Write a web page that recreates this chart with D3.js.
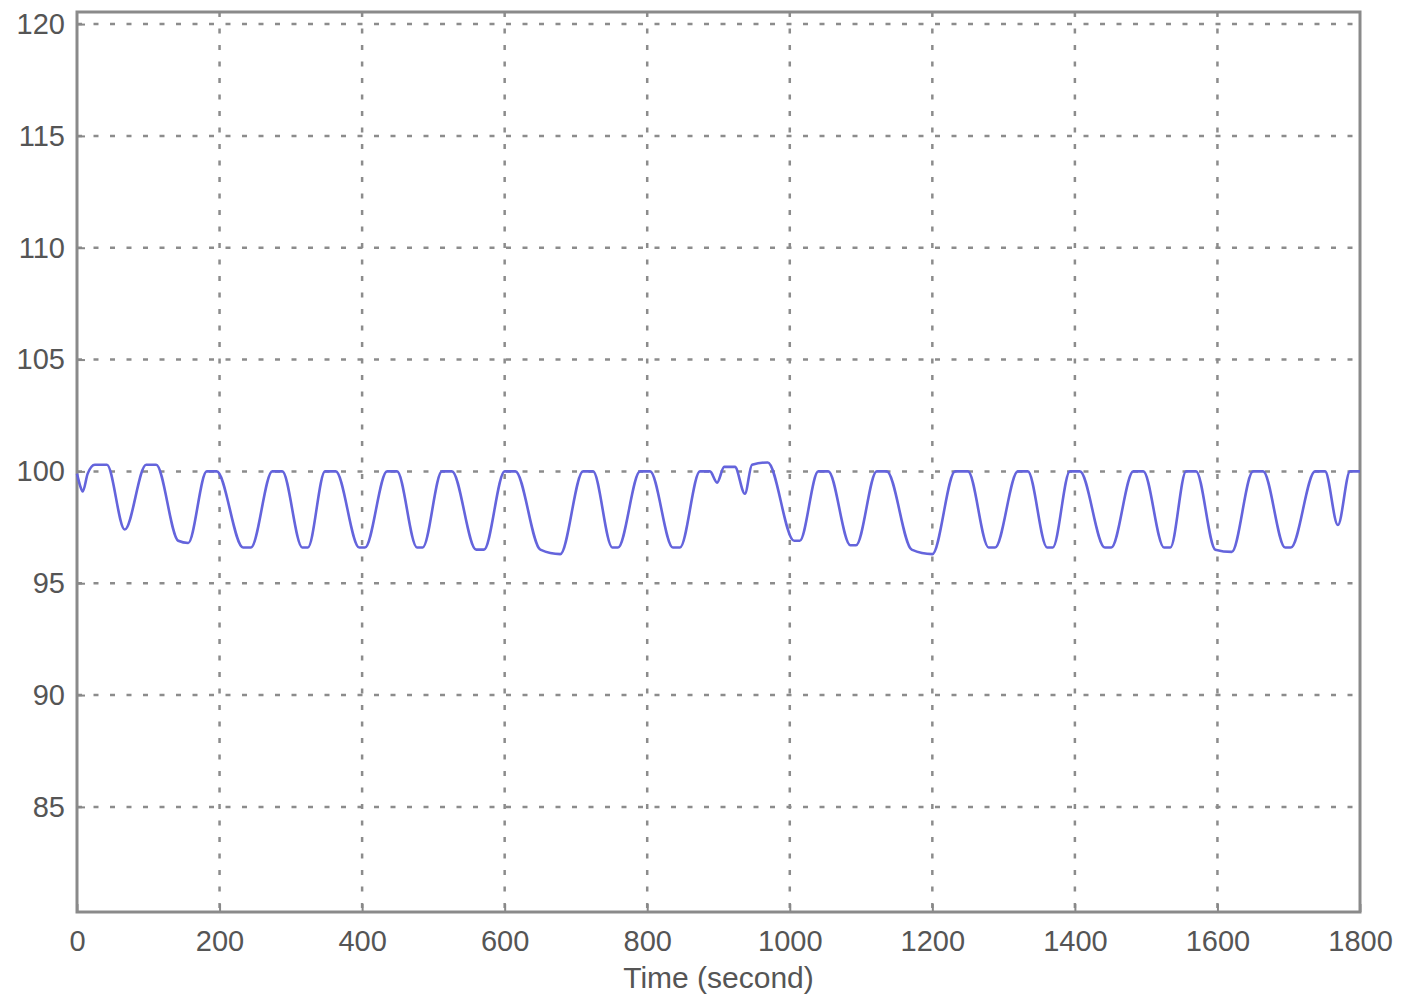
<!DOCTYPE html>
<html>
<head>
<meta charset="utf-8">
<script src="https://cdn.jsdelivr.net/npm/d3@7/dist/d3.min.js"></script>
<style>
  html, body { margin: 0; padding: 0; background: #ffffff; }
  svg { display: block; }
  text { font-family: Arial, "Liberation Sans", sans-serif; }
</style>
</head>
<body>
<svg id="chart" width="1404" height="997"></svg>
<script>
// Time samples (seconds) and measured level
const times = [
  0, 4, 8, 15, 25, 42, 67, 97, 111, 142, 156, 182, 196, 233, 244, 274, 288,
  316, 324, 348, 363, 396, 404, 435, 449, 477, 485, 512, 526, 560, 571,
  600, 615, 650, 678, 710, 724, 751, 759, 790, 804, 836, 846, 874, 888,
  898, 908, 923, 937, 947, 969, 1006, 1014, 1040, 1054, 1085, 1093, 1122, 1136,
  1171, 1200, 1232, 1250, 1279, 1288, 1320, 1334, 1361, 1369, 1393, 1407,
  1442, 1451, 1482, 1496, 1525, 1534, 1556, 1570, 1597, 1620, 1650, 1664,
  1695, 1703, 1737, 1751, 1769, 1786, 1800
];
const values = [
  99.9, 99.4, 99.1, 99.9, 100.3, 100.3, 97.4, 100.3, 100.3, 96.9, 96.8, 100.0, 100.0, 96.6, 96.6, 100.0, 100.0,
  96.6, 96.6, 100.0, 100.0, 96.6, 96.6, 100.0, 100.0, 96.6, 96.6, 100.0, 100.0, 96.5, 96.5,
  100.0, 100.0, 96.5, 96.3, 100.0, 100.0, 96.6, 96.6, 100.0, 100.0, 96.6, 96.6, 100.0, 100.0,
  99.5, 100.2, 100.2, 99.0, 100.3, 100.4, 96.9, 96.9, 100.0, 100.0, 96.7, 96.7, 100.0, 100.0,
  96.5, 96.3, 100.0, 100.0, 96.6, 96.6, 100.0, 100.0, 96.6, 96.6, 100.0, 100.0,
  96.6, 96.6, 100.0, 100.0, 96.6, 96.6, 100.0, 100.0, 96.5, 96.4, 100.0, 100.0,
  96.6, 96.6, 100.0, 100.0, 97.6, 100.0, 100.0
];

// Axis settings
const xTicks = [0, 200, 400, 600, 800, 1000, 1200, 1400, 1600, 1800];
const yTicks = [85, 90, 95, 100, 105, 110, 115, 120];
const xDomain = [0, 1800];
const yDomain = [80.3, 120.54];
const xLabel = "Time (second)";

const svg = d3.select("#chart");
const margin = { left: 77, top: 12, right: 44, bottom: 85 };
const W = 1404 - margin.left - margin.right;
const H = 997 - margin.top - margin.bottom;

const x = d3.scaleLinear().domain(xDomain).range([0, W]);
const y = d3.scaleLinear().domain(yDomain).range([H, 0]);

const g = svg.append("g").attr("transform", `translate(${margin.left},${margin.top})`);

const gridColor = "#8c8c8c";
const dash = "5,11.5";

// Dotted grid
g.append("g").selectAll("line.vg").data(xTicks.filter(d => d > xDomain[0] && d < xDomain[1]))
  .join("line")
  .attr("x1", d => x(d)).attr("x2", d => x(d))
  .attr("y1", 0).attr("y2", H)
  .attr("stroke", gridColor).attr("stroke-width", 2.5).attr("stroke-dasharray", dash);

g.append("g").selectAll("line.hg").data(yTicks)
  .join("line")
  .attr("x1", 0).attr("x2", W)
  .attr("y1", d => y(d)).attr("y2", d => y(d))
  .attr("stroke", gridColor).attr("stroke-width", 2.5).attr("stroke-dasharray", dash);

// Axes with inward ticks
const xAxis = d3.axisBottom(x).tickValues(xTicks).tickSize(-8).tickPadding(18).tickFormat(d3.format("d"));
const yAxis = d3.axisLeft(y).tickValues(yTicks).tickSize(-8).tickPadding(12).tickFormat(d3.format("d"));

const xa = g.append("g").attr("transform", `translate(0,${H})`).call(xAxis);
const ya = g.append("g").call(yAxis);
[xa, ya].forEach(a => {
  a.select(".domain").remove();
  a.selectAll(".tick line").attr("stroke", "#888").attr("stroke-width", 2);
  a.selectAll(".tick text").attr("fill", "#555").attr("font-size", 29);
});
ya.selectAll(".tick text").attr("dx", "0.0em");

// Frame
g.append("rect")
  .attr("x", 0).attr("y", 0).attr("width", W).attr("height", H)
  .attr("fill", "none").attr("stroke", "#8a8a8a").attr("stroke-width", 3);

// Series line
const data = times.map((t, i) => ({ t, v: values[i] }));
const line = d3.line().x(d => x(d.t)).y(d => y(d.v)).curve(d3.curveMonotoneX);
g.append("path")
  .datum(data)
  .attr("d", line)
  .attr("fill", "none")
  .attr("stroke", "#6464dc")
  .attr("stroke-width", 2.6)
  .attr("stroke-linejoin", "round");

// Axis title
g.append("text")
  .attr("x", x(900) - 75 + 75)
  .attr("y", H + 76)
  .attr("text-anchor", "middle")
  .attr("fill", "#555")
  .attr("font-size", 30)
  .text(xLabel);
</script>
</body>
</html>
